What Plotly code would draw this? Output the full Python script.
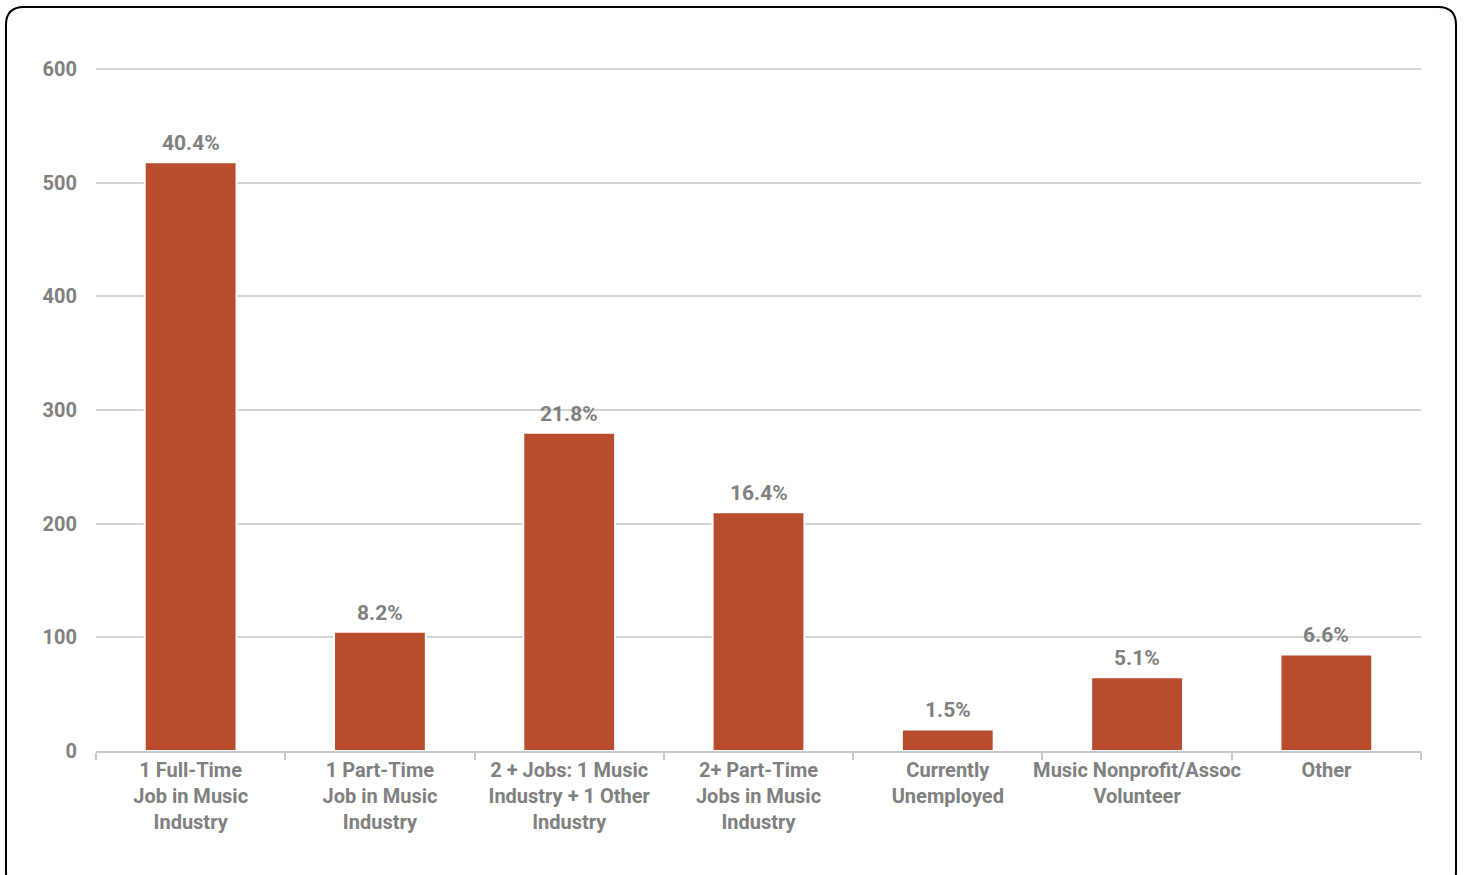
import plotly.graph_objects as go

categories = [
    "1 Full-Time<br>Job in Music<br>Industry",
    "1 Part-Time<br>Job in Music<br>Industry",
    "2 + Jobs: 1 Music<br>Industry + 1 Other<br>Industry",
    "2+ Part-Time<br>Jobs in Music<br>Industry",
    "Currently<br>Unemployed",
    "Music Nonprofit/Assoc<br>Volunteer",
    "Other",
]
counts = [518, 105, 280, 210, 19, 65, 85]
pct_labels = ["40.4%", "8.2%", "21.8%", "16.4%", "1.5%", "5.1%", "6.6%"]
y_ticks = [0, 100, 200, 300, 400, 500, 600]

W, H = 1465, 875
L, R, T, B = 96, 44, 68, 124
FONT = "Roboto, sans-serif"
GRAY = "#808080"
BAR = "#B84C2D"

fig = go.Figure()
fig.add_trace(go.Bar(
    x=categories, y=counts,
    marker=dict(color=BAR, line=dict(color="white", width=2)),
    width=0.485,
    hoverinfo="skip",
))

for c, v, t in zip(categories, counts, pct_labels):
    fig.add_annotation(x=c, y=v, text=t, showarrow=False,
                       yanchor="bottom", yshift=5,
                       font=dict(family=FONT, size=21, color=GRAY, weight="bold"))

# rounded outer border, pixel coords -> paper coords
pw, ph = W - L - R, H - T - B
def px(x):
    return (x - L) / pw
def py(y):
    return (H - B - y) / ph
x0, y0, x1, y1, r = 6, 7, 1456, 890, 18
path = (f"M {px(x0+r)} {py(y0)} L {px(x1-r)} {py(y0)} "
        f"Q {px(x1)} {py(y0)} {px(x1)} {py(y0+r)} "
        f"L {px(x1)} {py(y1-r)} Q {px(x1)} {py(y1)} {px(x1-r)} {py(y1)} "
        f"L {px(x0+r)} {py(y1)} Q {px(x0)} {py(y1)} {px(x0)} {py(y1-r)} "
        f"L {px(x0)} {py(y0+r)} Q {px(x0)} {py(y0)} {px(x0+r)} {py(y0)} Z")
fig.add_shape(type="path", path=path, xref="paper", yref="paper",
              line=dict(color="black", width=2), layer="above")

fig.update_layout(
    width=W, height=H,
    margin=dict(l=L, r=R, t=T, b=B, autoexpand=False),
    paper_bgcolor="white", plot_bgcolor="white",
    showlegend=False,
    font=dict(family=FONT, color=GRAY, size=20),
    xaxis=dict(
        automargin=False, tickangle=0,
        showline=True, linecolor="#c8c8c8", linewidth=2,
        ticks="outside", ticklen=7, tickcolor="#c8c8c8", tickwidth=2,
        tickson="boundaries", showgrid=False,
        tickfont=dict(family=FONT, size=20, color=GRAY, weight="bold"),
    ),
    yaxis=dict(
        automargin=False,
        range=[0, 601], tickvals=y_ticks,
        showgrid=True, gridcolor="#d3d3d3", gridwidth=2,
        zeroline=False, showline=False,
        ticks="", ticklabelstandoff=18,
        tickfont=dict(family=FONT, size=20, color=GRAY, weight="bold"),
    ),
)

fig.write_html("out.html",
               config={"displayModeBar": False},
               post_script="document.body.style.margin='0';document.body.style.overflow='hidden';")
